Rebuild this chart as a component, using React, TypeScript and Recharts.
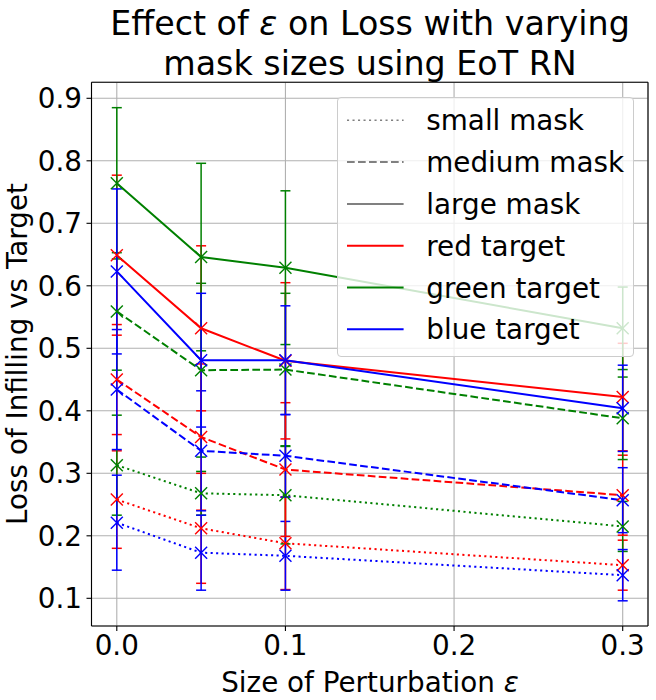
import {
  LineChart, Line, XAxis, YAxis, CartesianGrid, ErrorBar, ReferenceLine,
} from 'recharts'

// perturbation sizes on the x axis
const epsilons = [0, 0.05, 0.1, 0.3]
const xTicks = [0, 0.1, 0.2, 0.3]
const yTicks = [0.1, 0.2, 0.3, 0.4, 0.5, 0.6, 0.7, 0.8, 0.9]

// small mask (dotted)
const redSmall = [0.258, 0.212, 0.188, 0.153]
const redSmallErr = [0.078, 0.088, 0.074, 0.04]
const greenSmall = [0.313, 0.268, 0.265, 0.215]
const greenSmallErr = [0.08, 0.035, 0.078, 0.04]
const blueSmall = [0.221, 0.173, 0.168, 0.137]
const blueSmallErr = [0.076, 0.06, 0.055, 0.041]

// medium mask (dashed)
const redMedium = [0.45, 0.358, 0.306, 0.265]
const redMediumErr = [0.088, 0.117, 0.107, 0.064]
const greenMedium = [0.559, 0.465, 0.466, 0.388]
const greenMediumErr = [0.094, 0.139, 0.122, 0.066]
const blueMedium = [0.434, 0.336, 0.328, 0.257]
const blueMediumErr = [0.096, 0.096, 0.066, 0.052]

// large mask (solid)
const redLarge = [0.649, 0.532, 0.48, 0.422]
const redLargeErr = [0.128, 0.132, 0.125, 0.086]
const greenLarge = [0.764, 0.646, 0.629, 0.532]
const greenLargeErr = [0.121, 0.15, 0.123, 0.066]
const blueLarge = [0.623, 0.481, 0.481, 0.404]
const blueLargeErr = [0.132, 0.107, 0.087, 0.069]

const legendMasks = ['small mask', 'medium mask', 'large mask']
const legendTargets = ['red target', 'green target', 'blue target']

const X_DOMAIN: [number, number] = [-0.015, 0.315]
const Y_DOMAIN: [number, number] = [0.0557, 0.9256]
const FONT = '"DejaVu Sans", sans-serif'
const FS = 27.8

const RED = '#ff0000'
const GREEN = '#008000'
const BLUE = '#0000ff'
const DOTTED = '2.1 3.4'
const DASHED = '7.7 3.3'

const series = [
  { key: 'redSmall', values: redSmall, err: redSmallErr, color: RED, dash: DOTTED },
  { key: 'greenSmall', values: greenSmall, err: greenSmallErr, color: GREEN, dash: DOTTED },
  { key: 'blueSmall', values: blueSmall, err: blueSmallErr, color: BLUE, dash: DOTTED },
  { key: 'redMedium', values: redMedium, err: redMediumErr, color: RED, dash: DASHED },
  { key: 'greenMedium', values: greenMedium, err: greenMediumErr, color: GREEN, dash: DASHED },
  { key: 'blueMedium', values: blueMedium, err: blueMediumErr, color: BLUE, dash: DASHED },
  { key: 'redLarge', values: redLarge, err: redLargeErr, color: RED, dash: undefined },
  { key: 'greenLarge', values: greenLarge, err: greenLargeErr, color: GREEN, dash: undefined },
  { key: 'blueLarge', values: blueLarge, err: blueLargeErr, color: BLUE, dash: undefined },
]

const data = epsilons.map((x, i) => {
  const row: Record<string, number> = { x }
  for (const s of series) {
    row[s.key] = s.values[i]
    row[s.key + 'Err'] = s.err[i]
  }
  return row
})

function XMarker(props: any) {
  const { cx, cy, color } = props
  if (cx == null || cy == null) return null
  const r = 6
  return (
    <g>
      <line x1={cx - r} y1={cy - r} x2={cx + r} y2={cy + r} stroke={color} strokeWidth={1.4} />
      <line x1={cx - r} y1={cy + r} x2={cx + r} y2={cy - r} stroke={color} strokeWidth={1.4} />
    </g>
  )
}

function LegendBox() {
  const rowY = (i: number) => 23.3 + i * 41.8
  const rows = [
    ...legendMasks.map((label, i) => ({ label, color: '#808080', dash: [DOTTED, DASHED, undefined][i], width: i === 0 ? 1.5 : 2 })),
    ...legendTargets.map((label, i) => ({ label, color: [RED, GREEN, BLUE][i], dash: undefined, width: 2 })),
  ]
  return (
    <div style={{
      position: 'absolute', left: 336.7, top: 96.7, width: 297, height: 260,
      background: 'rgba(255,255,255,0.8)', border: '1px solid #cccccc',
      borderRadius: 4, boxSizing: 'border-box',
    }}>
      <svg width={297} height={260} style={{ position: 'absolute', left: -1, top: -1 }}>
        {rows.map((r, i) => (
          <g key={r.label}>
            <line x1={10} x2={66.6} y1={rowY(i)} y2={rowY(i)} stroke={r.color}
              strokeWidth={r.width} strokeDasharray={r.dash} />
            <text x={89.3} y={rowY(i) + 10} fontFamily={FONT} fontSize={FS} fill="#000">{r.label}</text>
          </g>
        ))}
      </svg>
    </div>
  )
}

export default function App() {
  return (
    <div style={{ position: 'absolute', left: 0, top: 0, width: 656, height: 700, background: '#fff' }}>
      <LineChart width={656} height={700} data={data}
        margin={{ top: 82.3, right: 8, bottom: 0, left: 0 }}>
        <CartesianGrid stroke="#b0b0b0" strokeWidth={1.1} />
        <XAxis
          dataKey="x" type="number" domain={X_DOMAIN} ticks={xTicks} allowDataOverflow
          tickFormatter={(v: number) => v.toFixed(1)}
          height={74} tickSize={5} tickMargin={4.5}
          stroke="#000" strokeWidth={1.1}
          tick={{ fill: '#000', fontSize: FS, fontFamily: FONT }}
        />
        <YAxis
          type="number" domain={Y_DOMAIN} ticks={yTicks} allowDataOverflow
          tickFormatter={(v: number) => v.toFixed(1)}
          width={91.5} tickSize={5} tickMargin={4.5}
          stroke="#000" strokeWidth={1.1}
          tick={{ fill: '#000', fontSize: FS, fontFamily: FONT }}
        />
        <ReferenceLine y={Y_DOMAIN[1]} stroke="#000" strokeWidth={1.1} />
        <ReferenceLine x={X_DOMAIN[1]} stroke="#000" strokeWidth={1.1} />
        {series.map(s => (
          <Line
            key={s.key}
            dataKey={s.key}
            type="linear"
            stroke={s.color}
            strokeWidth={2}
            strokeDasharray={s.dash}
            dot={(p: any) => <XMarker key={`${s.key}-${p.index}`} {...p} color={s.color} />}
            activeDot={false}
            isAnimationActive={false}
          >
            <ErrorBar dataKey={s.key + 'Err'} direction="y" width={5}
              stroke={s.color} strokeWidth={1.5} isAnimationActive={false} />
          </Line>
        ))}
      </LineChart>

      <svg width={656} height={700} style={{ position: 'absolute', left: 0, top: 0, pointerEvents: 'none' }}>
        <text x={370} y={35} textAnchor="middle" fontFamily={FONT} fontSize={33.3} fill="#000">
          Effect of <tspan fontStyle="italic">ε</tspan> on Loss with varying
        </text>
        <text x={370} y={75} textAnchor="middle" fontFamily={FONT} fontSize={33.3} fill="#000">
          mask sizes using EoT RN
        </text>
        <text x={370} y={692} textAnchor="middle" fontFamily={FONT} fontSize={FS} fill="#000">
          Size of Perturbation <tspan fontStyle="italic">ε</tspan>
        </text>
        <text transform="translate(27,354) rotate(-90)" textAnchor="middle" fontFamily={FONT} fontSize={FS} fill="#000">
          Loss of Infilling vs Target
        </text>
      </svg>

      <LegendBox />
    </div>
  )
}
